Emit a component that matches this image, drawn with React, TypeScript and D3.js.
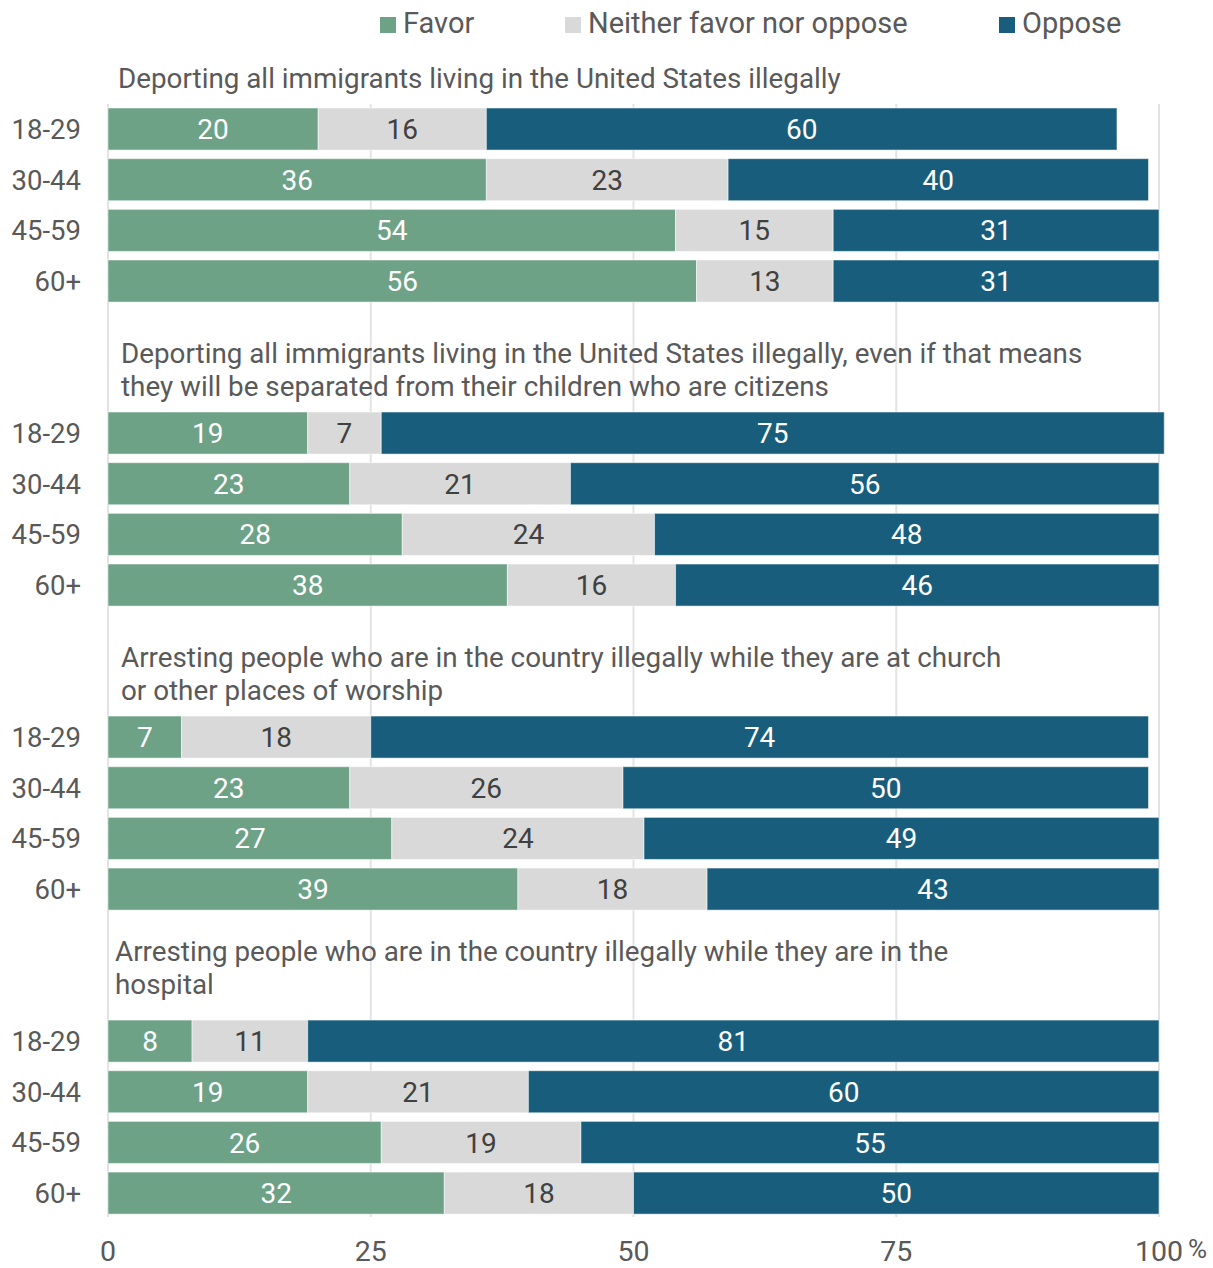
import React from "react";
import * as d3 from "d3";

const series = ["Favor", "Neither favor nor oppose", "Oppose"];
const ageGroups = ["18-29", "30-44", "45-59", "60+"];
const questions = [
  ["Deporting all immigrants living in the United States illegally"],
  ["Deporting all immigrants living in the United States illegally, even if that means", "they will be separated from their children who are citizens"],
  ["Arresting people who are in the country illegally while they are at church", "or other places of worship"],
  ["Arresting people who are in the country illegally while they are in the", "hospital"],
];
// per question, per age group
const favor = [
  [20, 36, 54, 56],
  [19, 23, 28, 38],
  [7, 23, 27, 39],
  [8, 19, 26, 32],
];
const neither = [
  [16, 23, 15, 13],
  [7, 21, 24, 16],
  [18, 26, 24, 18],
  [11, 21, 19, 18],
];
const oppose = [
  [60, 40, 31, 31],
  [74.5, 56, 48, 46],
  [74, 50, 49, 43],
  [81, 60, 55, 50],
];
const xTicks = [0, 25, 50, 75, 100];

const colors = ["#6ea287", "#d9d9d9", "#185e7c"];
const labelColors = ["#ffffff", "#404040", "#ffffff"];
const titleDx = [10, 13, 13, 7];
const titleDy = [0, 4, 4, -6];
const FONT = "Roboto, 'Noto Sans', sans-serif";

export default function App() {
  const W = 1213, H = 1268;
  const x = d3.scaleLinear().domain([0, 100]).range([108, 1159]);
  const step = 50.67;
  const slots: string[] = [];
  questions.forEach((_, g) => {
    slots.push(`t${g}`);
    ageGroups.forEach((a) => slots.push(`${g}-${a}`));
    slots.push(`gap${g}`);
  });
  const top0 = 108 - step;
  const y = d3
    .scaleBand<string>()
    .domain(slots)
    .range([top0, top0 + step * (slots.length - 0.17)])
    .paddingInner(0.17)
    .paddingOuter(0);

  const stack = d3.stack<number[]>().keys(["0", "1", "2"]).value((d, k) => d[+k]);

  const grid = xTicks.map((t) => (
    <line key={t} x1={x(t)} x2={x(t)} y1={104} y2={1217} stroke="#e3e3e3" strokeWidth={2} />
  ));

  const bars: React.ReactNode[] = [];
  questions.forEach((_, g) => {
    const rows = ageGroups.map((_, i) => [favor[g][i], neither[g][i], oppose[g][i]]);
    const stacked = stack(rows);
    stacked.forEach((layer, s) => {
      layer.forEach((seg, i) => {
        const key = `${g}-${ageGroups[i]}`;
        const y0 = y(key)!;
        const x0 = x(seg[0]);
        const x1 = x(seg[1]);
        bars.push(
          <rect key={`r${g}-${s}-${i}`} x={x0} y={y0} width={x1 - x0} height={y.bandwidth()}
            fill={colors[s]} stroke="#ffffff" strokeOpacity={0.5} strokeWidth={1} />
        );
        bars.push(
          <text key={`l${g}-${s}-${i}`} x={(x0 + x1) / 2} y={y0 + y.bandwidth() / 2} dy="0.36em"
            textAnchor="middle" fontSize={28} fill={labelColors[s]} fontFamily={FONT}>
            {Math.round(rows[i][s])}
          </text>
        );
      });
    });
  });

  const rowLabels = questions.flatMap((_, g) =>
    ageGroups.map((a) => (
      <text key={`${g}-${a}`} x={81} y={y(`${g}-${a}`)! + y.bandwidth() / 2} dy="0.36em"
        textAnchor="end" fontSize={27.5} fill="#595959" fontFamily={FONT}>
        {a}
      </text>
    ))
  );

  const titles = questions.map((lines, g) => {
    const cy = y(`t${g}`)! + y.bandwidth() / 2 + titleDy[g];
    const n = lines.length;
    return lines.map((line, j) => (
      <text key={`t${g}-${j}`} x={x(0) + titleDx[g]} y={cy - (n - 1 - j) * 33} dy="0.36em"
        fontSize={27.8} fill="#595959" fontFamily={FONT}>
        {line}
      </text>
    ));
  });

  const ticks = xTicks.map((t) => (
    <text key={t} x={x(t)} y={1251} dy="0.36em" textAnchor="middle" fontSize={28.5}
      fill="#595959" fontFamily={FONT}>
      {t}
    </text>
  ));

  const legendX = [380, 565, 999];
  const legend = series.map((s, i) => (
    <g key={s} transform={`translate(${legendX[i]},0)`}>
      <rect x={0} y={17} width={16} height={16} fill={colors[i]} />
      <text x={23} y={23} dy="0.36em" fontSize={29} fill="#595959" fontFamily={FONT}>{s}</text>
    </g>
  ));

  return (
    <svg width={W} height={H} style={{ position: "absolute", left: 0, top: 0, background: "#fff" }}>
      {grid}
      {bars}
      {rowLabels}
      {titles}
      {ticks}
      <text x={1188} y={1249} dy="0.36em" fontSize={26} fill="#595959" fontFamily={FONT}>%</text>
      {legend}
    </svg>
  );
}
